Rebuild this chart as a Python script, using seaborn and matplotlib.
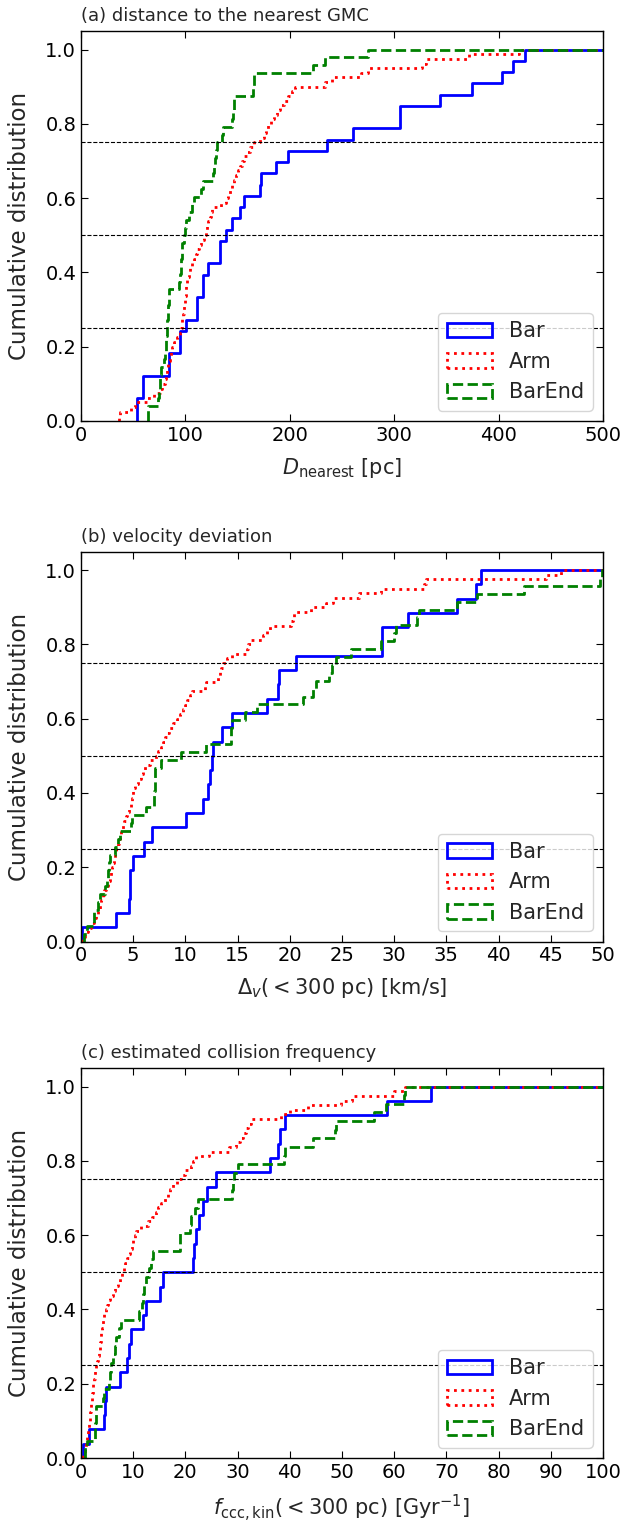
import numpy as np
import matplotlib
matplotlib.use("Agg")
import matplotlib.pyplot as plt
from matplotlib.patches import Patch
import seaborn as sns

# ---------------- data ----------------
groups = ["Bar", "Arm", "BarEnd"]

# (a) distance to the nearest GMC [pc]
bar_a = [53.5, 54, 59, 59.5, 84, 84.3, 95, 95.2, 100.2, 111.3, 111.5, 116.5, 116.7,
         121.5, 133, 133.2, 138.7, 144.5, 152.5, 156.4, 171.8, 172.5, 186.6, 198.7,
         236, 261, 305.8, 306, 343.6, 374.8, 403, 413.6, 424.9]
arm_a = [36, 37, 48, 52, 63, 70, 76, 78, 80, 81.5,
         82.3, 83, 83.6, 84.8, 85.8, 87, 89.5, 92, 94.5, 95.6,
         96.3, 97, 97.6, 98.2, 98.8, 99.3, 99.8, 100.2, 100.7, 101.2,
         101.7, 103, 104.5, 106.5, 108, 110, 111.4, 113, 114.5, 118,
         119.5, 120.8, 122, 123.3, 124.5, 125.8, 134, 139, 141, 143,
         145, 147, 148.6, 150.5, 152.4, 154.3, 156.5, 159, 162, 166,
         171, 175, 177, 179.5, 182, 185, 188, 191, 194, 198,
         202, 205, 234, 240, 268, 275, 327, 330, 372, 420]
barend_a = [64, 64.3, 74, 75, 75.5, 76, 77, 79.5, 80.5, 81, 81.5, 82, 82.5, 83, 83.5,
            84, 84.5, 94, 95, 95.5, 96, 96.5, 97, 99, 100, 100.5, 103, 106, 108, 115,
            117, 126, 127, 128, 129, 130, 135, 136, 144.5, 146, 146.5, 147, 165, 165.5,
            166, 222, 233.5, 274.6]

# (b) velocity deviation [km/s]
bar_b = [0.1, 3.4, 4.6, 4.65, 4.7, 5.0, 6.0, 6.8, 10.1, 11.7, 12.2, 12.4, 12.5, 12.6,
         13.5, 14.5, 17.8, 18.9, 18.95, 20.6, 28.8, 28.85, 31.3, 36.0, 37.8, 38.3]
arm_b = [0.1, 0.4, 0.7, 0.95, 1.2, 1.4, 1.6, 1.8, 1.95, 2.1,
         2.25, 2.4, 2.6, 2.8, 2.9, 3.0, 3.05, 3.15, 3.3, 3.4,
         3.5, 3.6, 3.7, 3.85, 4.0, 4.15, 4.3, 4.45, 4.6, 4.8,
         4.9, 4.95, 5.0, 5.2, 5.45, 5.7, 5.9, 6.1, 6.6, 7.2,
         7.4, 7.65, 7.9, 8.0, 8.2, 8.4, 8.8, 9.2, 9.5, 9.8,
         10.0, 10.2, 10.4, 10.6, 11.9, 12.0, 13.15, 13.3, 13.45, 13.6,
         14.0, 14.5, 15.9, 16.0, 16.3, 17.4, 17.8, 18.1, 20.1, 20.3,
         20.4, 22.0, 23.5, 24.1, 26.6, 28.7, 32.9, 33.0, 44.5, 46.0]
barend_b = [0.3, 0.55, 1.2, 1.25, 1.6, 1.8, 2.3, 2.5, 2.6, 2.7, 2.75, 3.25, 3.57, 3.7,
            4.8, 4.85, 6.2, 7.0, 7.03, 7.05, 7.07, 7.1, 7.7, 9.6, 12.0, 14.35, 14.4,
            14.45, 15.7, 16.9, 21.3, 22.2, 22.5, 23.8, 24.0, 24.4, 25.9, 28.7, 30.0,
            30.2, 32.2, 32.4, 36.0, 37.9, 42.4, 49.7, 49.9]

# (c) estimated collision frequency [1/Gyr]
bar_c = [0.4, 1.5, 4.4, 4.6, 4.8, 7.4, 8.9, 9.2, 9.5, 11.9, 12.5, 15.1, 15.7, 21.4,
         21.6, 22.1, 22.7, 23.4, 24.2, 25.8, 36.3, 37.7, 38.2, 39.1, 58.7, 67.0]
arm_c = [0.4, 0.7, 0.95, 1.1, 1.2, 1.3, 1.45, 1.55, 1.65, 1.75,
         1.85, 1.95, 2.05, 2.15, 2.25, 2.35, 2.5, 2.6, 2.75, 2.85,
         3.0, 3.2, 3.4, 3.6, 3.7, 3.8, 3.9, 4.0, 4.15, 4.3,
         4.5, 4.7, 5.0, 5.2, 5.6, 6.1, 6.5, 7.0, 7.4, 7.9,
         8.2, 8.5, 8.8, 9.1, 9.35, 9.7, 10.0, 10.3, 10.6, 11.4,
         12.8, 13.6, 14.3, 14.8, 15.4, 16.0, 16.6, 17.1, 17.6, 18.3,
         19.2, 20.0, 21.0, 21.5, 22.1, 24.5, 28.4, 29.7, 30.4, 31.0,
         31.6, 32.0, 32.6, 38.3, 40.0, 43.4, 49.8, 52.0, 60.0, 62.0]
barend_c = [0.85, 1.1, 2.6, 2.7, 2.8, 2.9, 4.3, 4.5, 5.4, 5.6, 5.8, 6.2, 6.5, 6.8, 7.2,
            7.6, 11.2, 11.7, 11.9, 12.1, 12.5, 13.0, 13.4, 13.8, 18.9, 19.0, 20.8, 21.1,
            21.8, 22.5, 28.9, 29.2, 29.4, 30.0, 38.9, 39.0, 44.5, 48.7, 48.9, 56.2, 58.5,
            61.9, 62.0]

titles = ["(a) distance to the nearest GMC", "(b) velocity deviation",
          "(c) estimated collision frequency"]
xlabels = [r"$D_{\rm nearest}$ [pc]", r"$\Delta_v(<300$ pc) [km/s]",
           r"$f_{\rm ccc,kin}(<300$ pc) [Gyr$^{-1}$]"]
xlims = [(0, 500), (0, 50), (0, 100)]
xtick_steps = [100, 5, 10]
quartiles = [0.25, 0.5, 0.75]

panels = [(bar_a, arm_a, barend_a), (bar_b, arm_b, barend_b), (bar_c, arm_c, barend_c)]

# ---------------- style ----------------
sns.set_style("ticks")
plt.rcParams.update({
    "font.family": ["DejaVu Sans"],
    "font.size": 13,
    "xtick.labelsize": 14, "ytick.labelsize": 14,
    "xtick.direction": "in", "ytick.direction": "in",
    "xtick.top": True, "ytick.right": True,
    "xtick.major.size": 5, "ytick.major.size": 5,
    "axes.edgecolor": "black", "axes.linewidth": 1.0,
    "xtick.color": "black", "ytick.color": "black",
})

colors = {"Bar": "blue", "Arm": "red", "BarEnd": "green"}
styles = {"Bar": "-", "Arm": ":", "BarEnd": "--"}

W, H = 626, 1522
fig = plt.figure(figsize=(W / 100, H / 100), dpi=100)

left = 81 / W
width = 522 / W
bottoms_px = [421, 941.5, 1458]
height = 390 / H


def draw_ecdf(ax, vals, group, xmax):
    sns.ecdfplot(x=np.asarray(vals, float), ax=ax, color=colors[group],
                 linestyle=styles[group], linewidth=2)
    line = ax.lines[-1]
    x, y = line.get_data()
    x = np.asarray(x, float).copy()
    y = np.asarray(y, float)
    x[0] = x[1]  # start with a vertical rise from zero
    # continue the final level to the right edge of the axis
    line.set_data(np.r_[x, xmax], np.r_[y, y[-1]])


for i, data in enumerate(panels):
    ax = fig.add_axes([left, (H - bottoms_px[i]) / H, width, height])
    for g, vals in zip(groups, data):
        draw_ecdf(ax, vals, g, xlims[i][1])
    for q in quartiles:
        ax.axhline(q, color="black", linestyle="--", linewidth=0.8)
    ax.set_xlim(*xlims[i])
    ax.set_ylim(0, 1.05)
    ax.set_xticks(np.arange(xlims[i][0], xlims[i][1] + 1e-9, xtick_steps[i]))
    ax.set_yticks(np.arange(0, 1.01, 0.2))
    ax.set_xlabel(xlabels[i], fontsize=15, labelpad=8)
    ax.set_ylabel("Cumulative distribution", fontsize=16.5, labelpad=10)
    ax.set_title(titles[i], loc="left", pad=7, fontsize=13)
    handles = [Patch(facecolor="none", edgecolor=colors[g], linestyle=styles[g],
                     linewidth=2, label=g) for g in groups]
    ax.legend(handles=handles, loc="lower right", fontsize=15, handlelength=2.2,
              labelspacing=0.5)

fig.savefig("out.png", dpi=100)
